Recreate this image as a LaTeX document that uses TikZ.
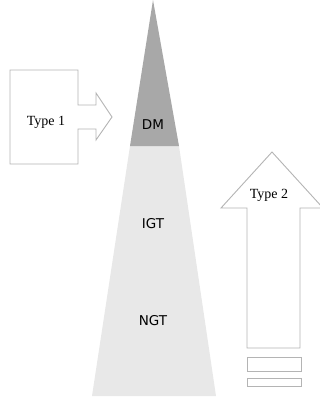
\documentclass[tikz,border=0pt]{standalone}
\usepackage{fontspec}
\setmainfont{Liberation Serif}
\newfontfamily\lblfont{DejaVu Sans}
\definecolor{dmgray}{HTML}{A8A8A8}
\definecolor{lightgray2}{HTML}{E8E8E8}
\definecolor{linegray}{HTML}{B4B4B4}
\begin{document}
\begin{tikzpicture}[x=1pt,y=-1pt,
  outline/.style={draw=linegray,line width=0.9pt,fill=white,line join=miter},
  layerlbl/.style={font=\lblfont\fontsize{13.5}{15}\selectfont,inner sep=0pt},
  typelbl/.style={font=\fontsize{14}{16}\selectfont,inner sep=0pt}]
\useasboundingbox (0,0) rectangle (320,400);
\clip (0,0) rectangle (320,400);
% pyramid
\fill[lightgray2] (130,146) -- (179,146) -- (216,396) -- (92,396) -- cycle;
\fill[dmgray] (153,0) -- (179,146) -- (130,146) -- cycle;
\node[layerlbl] (dm) at (153,125) {DM};
\node[layerlbl] (igt) at (153,224) {IGT};
\node[layerlbl] (ngt) at (153,321) {NGT};
% Type 1 arrow
\draw[outline] (10,70) -- (78,70) -- (78,105) -- (96,105) -- (96,93) -- (112,117)
  -- (96,140) -- (96,129) -- (78,129) -- (78,164) -- (10,164) -- cycle;
\node[typelbl] (t1) at (46,122) {Type 1};
% Type 2 arrow
\draw[outline] (272,152) -- (323,208) -- (300,208) -- (300,348) -- (247,348)
  -- (247,208) -- (221,208) -- cycle;
\node[typelbl] (t2) at (269,195) {Type 2};
\draw[outline] (247,357) rectangle (301,371);
\draw[outline] (247,378) rectangle (301,386);
\end{tikzpicture}
\end{document}
